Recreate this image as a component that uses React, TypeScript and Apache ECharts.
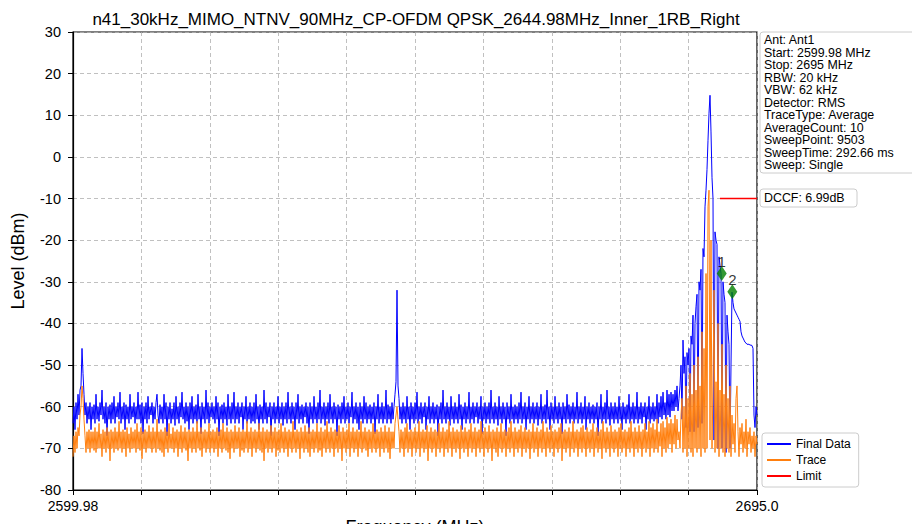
import React, { useEffect, useRef } from "react";
import * as echarts from "echarts";

const TITLE = "n41_30kHz_MIMO_NTNV_90MHz_CP-OFDM QPSK_2644.98MHz_Inner_1RB_Right";
const START_MHZ = 2599.98;
const STOP_MHZ = 2695.0;
const X_TICK_LABELS = ["2599.98", "", "", "", "", "", "", "", "", "", "2695.0"];
const Y_MIN = -80;
const Y_MAX = 30;
const Y_STEP = 10;

const INFO_LINES = [
  "Ant: Ant1",
  "Start: 2599.98 MHz",
  "Stop: 2695 MHz",
  "RBW: 20 kHz",
  "VBW: 62 kHz",
  "Detector: RMS",
  "TraceType: Average",
  "AverageCount: 10",
  "SweepPoint: 9503",
  "SweepTime: 292.66 ms",
  "Sweep: Single",
];
const DCCF_TEXT = "DCCF: 6.99dB";

// Final Data (blue), evenly spaced sweep points from START to STOP
const FINAL_DATA = [
  -64, -60, -65.5, -59, -63, -57, -62, -56, -55, -46, -52, -57, -62, -59, -64, -60, -63, -59, -65.5, -60,
  -63, -59.5, -64, -57, -63, -60, -63.5, -59, -62, -56, -63, -60, -64, -59, -67, -60, -63, -59.5, -64, -59,
  -63, -57.5, -64, -60, -62.5, -59, -63, -56.5, -64, -60, -63, -59, -65.5, -59.5, -63, -60, -64, -57, -63, -60,
  -62.5, -59, -64, -60, -63, -56.5, -63, -59.5, -64, -59, -66.5, -60, -63, -59, -64, -57.5, -63, -60, -62, -59,
  -64, -60, -63, -59, -57, -62, -64, -59.5, -63, -60, -64, -57, -63, -59, -67, -60, -63, -59, -64, -60.5,
  -63, -59, -64.5, -57.5, -63, -60, -64, -59, -62.5, -56.5, -63, -60, -64, -59, -63.5, -60, -65.5, -59, -63, -57.5,
  -64, -60, -63, -59.5, -64, -57, -63, -60, -66.5, -59, -63, -60, -64, -56, -63, -59, -64, -60, -62.5, -59,
  -63, -60, -64, -57.5, -63, -59, -67, -60, -63, -59.5, -64, -59, -63, -60, -64.5, -57, -63, -60, -64, -59,
  -63, -56.5, -64, -60, -63, -59, -64, -60, -62.5, -59, -65.5, -60, -63, -57.5, -64, -60, -63, -59, -64, -60,
  -63.5, -59, -64, -57, -63, -60, -65.5, -59.5, -63, -60, -64, -56, -63, -59, -64, -60, -62.5, -59, -67, -60,
  -63, -59, -64, -60, -63, -57.5, -64, -60, -63, -59, -64.5, -60, -63, -59, -64, -56.5, -63, -60, -64, -59,
  -63, -60, -65.5, -59, -63, -57, -64, -60, -63, -59.5, -64, -60, -62.5, -59, -64, -60, -66.5, -59, -63, -60,
  -64, -57.5, -63, -60, -64, -59, -63, -56, -64, -60, -63, -59, -64.5, -60, -63, -59, -64, -57, -63, -60,
  -64, -59, -63, -60, -67, -59.5, -63, -60, -64, -59, -63, -57.5, -64, -60, -63, -59, -64, -60, -62.5, -56.5,
  -64, -60, -63, -59, -64, -60, -65.5, -59, -63, -60, -64, -57.5, -63, -59, -64, -60, -63, -59.5, -64, -60,
  -63, -59, -66.5, -60, -63, -57, -64, -60, -63, -59, -64, -60, -63, -56, -64, -59.5, -63, -60, -64, -59,
  -63, -60, -57, -54, -32, -55, -58, -63, -60, -64, -59, -63, -60, -64, -57.5, -63, -60, -65.5, -59, -63,
  -60, -64, -59, -63, -56.5, -64, -60, -63, -59, -64, -60, -62.5, -59, -65.5, -60, -63, -57.5, -64, -60, -63,
  -59, -64, -60, -63, -59.5, -67, -60, -63, -59, -64, -56, -63, -60, -64, -59, -63, -60, -64.5, -57.5, -63,
  -60, -64, -59, -63, -60, -64, -57, -63, -59.5, -65.5, -60, -63, -59, -64, -60, -63, -56.5, -64, -60, -63,
  -59, -64, -60, -62.5, -59, -64, -60, -63, -57.5, -66.5, -60, -63, -59, -64, -60, -63, -59, -64, -56, -63,
  -60, -64, -59, -63, -60, -64.5, -57.5, -63, -60, -64, -59, -63, -60, -67, -59, -63, -60, -64, -57, -63,
  -60, -64, -59.5, -63, -60, -64, -59, -63, -56.5, -64, -60, -63, -59, -65.5, -60, -63, -57.5, -64, -60, -63,
  -59, -64, -60, -63, -59, -64.5, -60, -63, -57, -64, -60, -63, -59.5, -64, -56, -63, -60, -65.5, -59, -63,
  -60, -64, -57.5, -63, -60, -64, -59, -63, -60, -66.5, -59, -63, -60, -64, -57, -63, -59.5, -64, -60, -63,
  -59, -64, -60, -63, -56.5, -64, -60, -63, -59, -64, -60, -63, -57.5, -65.5, -60, -63, -59, -64, -60, -63,
  -59.5, -64, -60, -63, -59, -67, -60, -63, -57, -64, -60, -63, -59, -64, -56, -63, -60, -64.5, -59, -63,
  -60, -64, -59, -63, -60, -64, -57.5, -63, -60, -65.5, -59, -63, -60, -64, -59.5, -63, -57, -64, -60, -63,
  -59, -64, -60, -63, -56.5, -64, -60, -63, -59, -64, -60, -62.5, -59, -65.5, -60, -63, -57.5, -64, -60, -63,
  -59, -63.5, -60, -63, -57, -64, -59, -62.5, -57.5, -63, -56.5, -62, -59, -63, -56, -62, -57, -62.5, -56.5, -61,
  -57, -61, -56, -60, -55, -61,
  -58, -55, -50, -63, -44, -52, -48, -65, -47, -50, -46, -66, -43, -45, -38, -66, -40, -36, -33, -65,
  -30, -32, -27, -64, -22, -24, -12, -8, -3, 4, 10.5, 14.8, 6, -5, -10, -68, -18, -20, -21, -70,
  -24, -26, -28, -70, -30, -33, -35, -71, -38, -42, -45, -70, -50, -32.5, -35, -36.5, -37, -37.5, -38, -38.5,
  -39, -39.5, -42, -43, -43.5, -44, -44.5, -44.7, -45, -45, -45, -45.2, -45.2, -45.3, -46, -62, -65, -60, -62,
];

// Trace (orange)
const TRACE_DATA = [
  -72, -67, -71, -66, -70, -65, -67, -62, -60, -55, -58, -63, -67, -71, -66, -70, -65.5, -71, -66, -70,
  -66, -70.5, -65, -71, -66, -70, -64, -70, -66.5, -72, -65.5, -70, -66, -71, -65, -70, -66, -73, -65.5, -70,
  -66, -71, -65, -70, -66, -70.5, -63.5, -70, -66, -71, -65.5, -70, -66, -72, -65, -70, -66.5, -71, -65, -70,
  -66, -70, -65.5, -71, -64, -70, -66, -70.5, -65, -72.5, -66, -70, -65.5, -71, -66, -70, -64.5, -70, -66, -71,
  -65, -70, -66, -71, -63, -70, -66, -70.5, -65.5, -71, -66, -72, -65, -70, -66, -71, -64, -70, -66.5, -70,
  -65, -71, -66, -70, -65.5, -72, -66, -70, -64.5, -71, -66, -70, -65, -70.5, -66, -73, -65.5, -70, -66, -71,
  -65, -70, -66, -71, -63.5, -70, -66, -70.5, -65, -72, -66, -70, -65.5, -71, -66, -70, -64, -71, -66, -70,
  -65.5, -71, -66, -70, -65, -72, -66, -70, -65.5, -71, -64, -70, -66, -70.5, -65, -71, -66, -72.5, -65.5, -70,
  -66, -71, -64.5, -70, -66, -70, -65, -72, -66, -70.5, -65.5, -71, -66, -70, -63.5, -71, -66, -70, -65, -72,
  -66, -70, -65.5, -71, -66, -70, -64, -70.5, -66, -71, -65, -73, -66, -70, -65.5, -71, -66, -70, -64.5, -71,
  -66, -70, -65, -72, -66, -70.5, -65.5, -71, -64, -70, -66, -71, -65, -70, -66, -72, -65.5, -70, -66, -71,
  -63.5, -70, -66, -71, -65.5, -70, -66, -72.5, -65, -70, -66, -71, -64.5, -70, -66, -71, -65, -72, -66, -70,
  -65.5, -71, -66, -70, -64, -71, -66, -70.5, -65, -72, -66, -70, -65.5, -71, -63.5, -70, -66, -71, -65, -70,
  -66, -72, -65.5, -70, -66, -71, -64.5, -70, -66, -73, -65, -70, -66, -71, -65.5, -70, -64, -72, -66, -70,
  -65, -71, -66, -70, -65.5, -72, -66, -70, -63.5, -71, -66, -70, -65, -70.5, -66, -72, -65.5, -70, -66, -71,
  -64, -70, -66, -71, -65.5, -70, -66, -72, -65, -70, -66, -71, -64.5, -70, -66, -71, -65, -72.5, -66, -70,
  -66, -70, -64, -62, -60, -63, -66, -71, -65.5, -70, -66, -72, -65, -70, -64, -71, -66, -70, -65.5, -72,
  -66, -70, -65, -71, -66, -70, -63.5, -72, -66, -70, -65.5, -71, -66, -70, -64.5, -73, -66, -70, -65, -71,
  -66, -70, -65.5, -72, -66, -70, -64, -71, -66, -70, -65, -72, -66, -70, -65.5, -71, -63.5, -70, -66, -72,
  -65, -70, -66, -71, -65.5, -70, -66, -72.5, -64.5, -70, -66, -71, -65, -70, -66, -72, -65.5, -70, -64, -71,
  -66, -70, -65, -72, -66, -70, -65.5, -71, -63.5, -70, -66, -72, -65, -70, -66, -71, -64.5, -70, -66, -73,
  -65.5, -70, -66, -71, -65, -72, -66, -70, -64, -71, -66, -70, -65.5, -72, -66, -70, -65, -71, -63.5, -70,
  -66, -72, -65, -70, -66, -71, -65.5, -70, -64.5, -72, -66, -70, -65, -71, -66, -70, -65.5, -72.5, -66, -70,
  -64, -71, -66, -70, -65, -72, -66, -70, -65.5, -71, -63.5, -70, -66, -72, -65, -70, -66, -71, -64.5, -70,
  -66, -72, -65.5, -70, -66, -71, -65, -70, -64, -73, -66, -70, -65.5, -71, -66, -70, -65, -72, -66, -70,
  -63.5, -71, -66, -70, -65.5, -72, -66, -70, -65, -71, -64.5, -70, -66, -72, -65, -70, -66, -71, -65.5, -70,
  -64, -72, -66, -70, -65, -71, -66, -70, -65.5, -72.5, -63.5, -70, -66, -71, -65, -70, -66, -72, -64.5, -70,
  -66, -71, -65.5, -70, -66, -72, -65, -70, -64, -71, -66, -70, -65.5, -72, -66, -70, -65, -71, -63.5, -70,
  -66, -72, -65, -70, -66, -71, -64.5, -70, -66, -72, -65.5, -70, -64, -71, -66, -70, -63.5, -72, -65, -70,
  -64, -71, -65.5, -70, -63, -71, -66, -69.5, -64, -72, -63.5, -70, -65, -71, -62.5, -70, -64, -69, -63, -71,
  -64, -69, -62, -70, -63, -68,
  -66, -70, -62, -58, -71, -60, -70, -55, -72, -58, -70, -52, -71, -57, -72, -50, -70, -56, -71, -48,
  -70, -55, -72, -42, -70, -46, -71, -28, -70, -12, -8, -68, -20, -70, -55, -32, -71, -54, -70, -40,
  -72, -56, -70, -45, -71, -57, -72, -50, -70, -58, -71, -55, -72, -62, -69, -64, -71, -58, -55, -66,
  -72, -65, -69, -64, -71, -66, -70, -63, -72, -66, -69, -65, -71, -67, -70, -66, -72, -67, -69,
];

const LIMIT_FREQ = [2689.86, 2695.0];
const LIMIT_LEVEL = [-10, -10];

const MARKER_LABELS = ["1", "2"];
const MARKER_FREQ = [2690.1, 2691.57];
const MARKER_LEVEL = [-28.0, -32.4];

const FONT = "'Liberation Sans', Arial, sans-serif";

const toPairs = (arr: number[]) =>
  arr.map((v, i) => [START_MHZ + (i * (STOP_MHZ - START_MHZ)) / (arr.length - 1), v]);

export default function App() {
  const ref = useRef<HTMLDivElement>(null);
  useEffect(() => {
    document.body.style.margin = "0";
    const chart = echarts.init(ref.current!, null, { renderer: "svg" });
    const gridLine = { show: true, lineStyle: { type: [4, 3] as any, color: "#b0b0b0", width: 0.8 } };
    chart.setOption({
      animation: false,
      backgroundColor: "#fff",
      title: {
        text: TITLE,
        left: 411,
        top: 6,
        textAlign: "center",
        textStyle: { fontSize: 17, fontWeight: "normal", color: "#000", fontFamily: FONT },
      },
      grid: {
        left: 73,
        top: 32,
        width: 684,
        height: 458,
        show: true,
        borderColor: "#000",
        borderWidth: 1.2,
        backgroundColor: "transparent",
        outerBoundsMode: "none",
        containLabel: false,
      },
      legend: {
        data: ["Final Data", "Trace", "Limit"],
        orient: "vertical",
        left: 762,
        top: 433,
        icon: "rect",
        itemWidth: 24,
        itemHeight: 2,
        itemGap: 4,
        padding: [5, 8, 5, 5],
        borderColor: "#cccccc",
        borderWidth: 1,
        borderRadius: 3,
        backgroundColor: "#fff",
        selectedMode: false,
        textStyle: { fontSize: 12, color: "#000", fontFamily: FONT },
      },
      xAxis: [
        {
          type: "value",
          min: 0,
          max: 10,
          interval: 1,
          position: "bottom",
          axisLine: { show: true, onZero: false, lineStyle: { color: "#000", width: 1.2 } },
          axisTick: { show: true, inside: false, length: 5, lineStyle: { color: "#000" } },
          axisLabel: {
            formatter: (v: number) => X_TICK_LABELS[Math.round(v)] ?? "",
            color: "#000",
            fontSize: 14,
            fontFamily: FONT,
            margin: 9,
            showMinLabel: true,
            showMaxLabel: true,
          },
          splitLine: gridLine,
          name: "Frequency (MHz)",
          nameLocation: "middle",
          nameGap: 26,
          nameTextStyle: { fontSize: 18, color: "#000", fontFamily: FONT },
        },
        {
          type: "value",
          min: START_MHZ,
          max: STOP_MHZ,
          show: false,
          axisLine: { onZero: false },
          splitLine: { show: false },
        },
      ],
      yAxis: {
        type: "value",
        min: Y_MIN,
        max: Y_MAX,
        interval: Y_STEP,
        axisLine: { show: true, onZero: false, lineStyle: { color: "#000", width: 1.2 } },
        axisTick: { show: true, inside: false, length: 5, lineStyle: { color: "#000" } },
        axisLabel: { color: "#000", fontSize: 14.5, fontFamily: FONT, margin: 12 },
        splitLine: gridLine,
        name: "Level (dBm)",
        nameLocation: "middle",
        nameGap: 46,
        nameTextStyle: { fontSize: 18, color: "#000", fontFamily: FONT },
      },
      graphic: [
        {
          type: "rect",
          shape: { x: 760, y: 32, width: 160, height: 141, r: 3 },
          style: { fill: "#fff", stroke: "#cccccc", lineWidth: 1 },
        },
        {
          type: "text",
          x: 764,
          y: 34,
          style: { text: INFO_LINES.join("\n"), fontSize: 12.4, lineHeight: 12.5, fill: "#000", fontFamily: FONT },
        },
        {
          type: "rect",
          shape: { x: 760, y: 189, width: 97, height: 18, r: 3 },
          style: { fill: "#fff", stroke: "#cccccc", lineWidth: 1 },
        },
        {
          type: "text",
          x: 764,
          y: 192,
          style: { text: DCCF_TEXT, fontSize: 12.4, fill: "#000", fontFamily: FONT },
        },
      ],
      series: [
        {
          name: "Final Data",
          type: "line",
          xAxisIndex: 1,
          data: toPairs(FINAL_DATA),
          showSymbol: false,
          symbol: "none",
          lineStyle: { color: "#0000ff", width: 1 },
          itemStyle: { color: "#0000ff" },
          z: 2,
        },
        {
          name: "Trace",
          type: "line",
          xAxisIndex: 1,
          data: toPairs(TRACE_DATA),
          showSymbol: false,
          symbol: "none",
          lineStyle: { color: "#ff7f0e", width: 1 },
          itemStyle: { color: "#ff7f0e" },
          z: 3,
        },
        {
          name: "Limit",
          type: "line",
          xAxisIndex: 1,
          data: LIMIT_FREQ.map((f, i) => [f, LIMIT_LEVEL[i]]),
          showSymbol: false,
          symbol: "none",
          lineStyle: { color: "#ff0000", width: 1.5 },
          itemStyle: { color: "#ff0000" },
          z: 4,
        },
        {
          name: "Markers",
          type: "scatter",
          xAxisIndex: 1,
          symbol: "diamond",
          symbolSize: [10, 15],
          itemStyle: { color: "#008000" },
          label: {
            show: true,
            position: "top",
            distance: -3,
            formatter: "{b}",
            color: "#000",
            fontSize: 15,
            fontFamily: FONT,
          },
          data: MARKER_FREQ.map((f, i) => ({ name: MARKER_LABELS[i], value: [f, MARKER_LEVEL[i]] })),
          z: 5,
        },
      ],
    });
    return () => chart.dispose();
  }, []);
  return <div ref={ref} style={{ width: 912, height: 524 }} />;
}
